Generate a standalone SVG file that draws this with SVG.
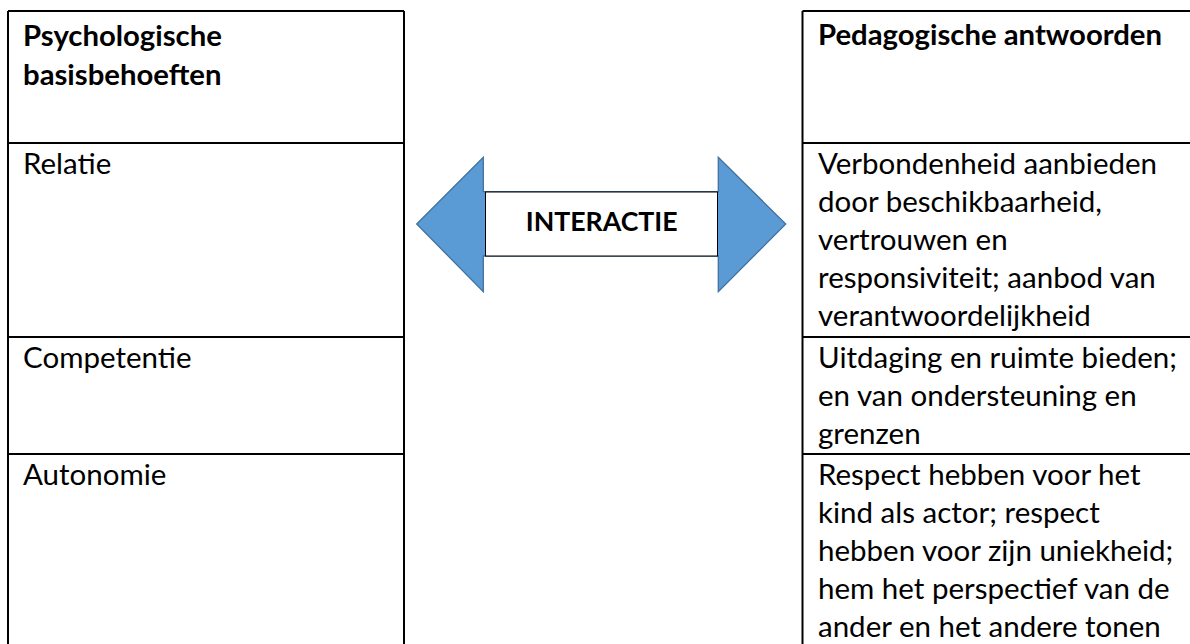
<svg xmlns="http://www.w3.org/2000/svg" width="1190" height="644" viewBox="0 0 1190 644">
<style>
.grid{fill:none;stroke:#000;stroke-width:2}
.t{font-family:Lato,"Liberation Sans",sans-serif;font-size:29.5px;fill:#000}
.b{font-weight:bold;font-size:29.3px}
.lbl{font-family:Lato,"Liberation Sans",sans-serif;font-size:26.7px;font-weight:bold;fill:#000}
.arrow{fill:#5B9BD5;stroke:#41719C;stroke-width:1.3}
</style>
<rect width="1190" height="644" fill="#fff"/>
<g id="left-table">
<path class="grid" d="M8,11 H404 M8,143 H404 M8,337 H404 M8,454 H404 M8,11 V650 M404,11 V650"/>
<text class="t b" x="23" y="46">Psychologische</text>
<text class="t b" x="23" y="85">basisbehoeften</text>
<text class="t" x="23" y="174">Relatie</text>
<text class="t" x="23" y="368">Competentie</text>
<text class="t" x="23" y="485">Autonomie</text>
</g>
<g id="right-table">
<path class="grid" d="M802.5,11 H1195 M802.5,143 H1195 M802.5,337 H1195 M802.5,454 H1195 M802.5,11 V650"/>
<text class="t b" x="818" y="45">Pedagogische antwoorden</text>
<text class="t" x="818" y="174">Verbondenheid aanbieden</text>
<text class="t" x="818" y="212">door beschikbaarheid,</text>
<text class="t" x="818" y="250">vertrouwen en</text>
<text class="t" x="818" y="288">responsiviteit; aanbod van</text>
<text class="t" x="818" y="326">verantwoordelijkheid</text>
<text class="t" x="818" y="368">Uitdaging en ruimte bieden;</text>
<text class="t" x="818" y="406">en van ondersteuning en</text>
<text class="t" x="818" y="444">grenzen</text>
<text class="t" x="818" y="485">Respect hebben voor het</text>
<text class="t" x="818" y="523">kind als actor; respect</text>
<text class="t" x="818" y="561">hebben voor zijn uniekheid;</text>
<text class="t" x="818" y="599">hem het perspectief van de</text>
<text class="t" x="818" y="637">ander en het andere tonen</text>
</g>
<g id="connectors">
<polygon class="arrow" points="416.7,224 483.3,157.3 483.3,191.7 718.3,191.7 718.3,157.3 785.7,224 718.3,291.7 718.3,256 483.3,256 483.3,291.7"/>
</g>
<g id="interactie">
<rect x="485.5" y="192" width="232" height="64" fill="#fff" stroke="#000" stroke-width="1"/>
<text class="lbl" x="601.7" y="231" text-anchor="middle">INTERACTIE</text>
</g>
</svg>
